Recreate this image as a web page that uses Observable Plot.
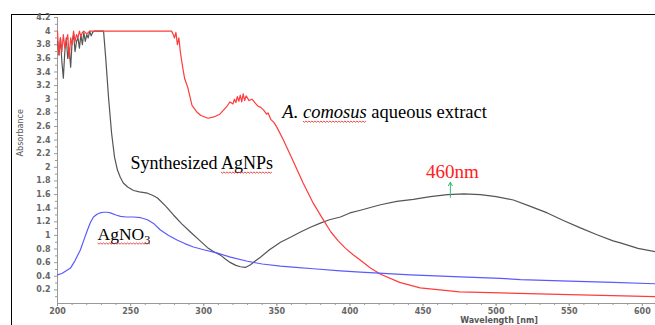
<!DOCTYPE html>
<html><head><meta charset="utf-8">
<script src="https://cdn.jsdelivr.net/npm/d3@7"></script>
<script src="https://cdn.jsdelivr.net/npm/@observablehq/plot@0.6"></script>
<style>
body{margin:0;background:#fff;}
#wrap{position:relative;width:655px;height:325px;overflow:hidden;background:#fff;}
#border{position:absolute;left:11px;top:14px;width:700px;height:400px;border-left:1.5px solid #000;border-top:1.5px solid #000;}
#chart{position:absolute;left:0;top:0;}
</style></head><body>
<div id="wrap"><div id="border"></div><div id="chart"></div></div>
<script>
// A. comosus aqueous extract (red)
const redW = [200,200.5,201,202,203,204,205,206,207,208,209,210,211,212,213,214,215,216,217,218,220,222,240,260,275,278,279,280,281,282,283,284,285,286,287,289,292,295,298,303,307,311,314,316,318,320,321,322,323,324,325,326,327,328,329,331,333,335,337,339,341,343,344,346,348,350,354.5,361,368,375,382,387,392,397,402,407,414,421,434,448,475,503,550,609];
const redA = [4.0,3.8,3.65,3.9,3.7,3.95,3.75,3.85,3.95,3.6,3.9,3.8,4.0,3.85,3.95,3.9,4.0,3.92,3.98,4.0,3.96,4.0,4.0,4.0,4.0,4.0,3.96,3.9,3.98,3.8,3.9,3.7,3.55,3.42,3.3,3.18,2.91,2.82,2.76,2.72,2.74,2.78,2.85,2.9,2.96,2.93,3.0,2.95,3.04,2.97,3.06,2.96,3.08,2.98,3.05,2.98,3.0,2.95,2.9,2.88,2.84,2.78,2.8,2.7,2.66,2.59,2.4,2.1,1.77,1.47,1.22,1.05,0.92,0.81,0.72,0.64,0.52,0.43,0.31,0.23,0.17,0.155,0.13,0.1];
// Synthesized AgNPs (dark grey)
const blackW = [200,201,202,203,204,205,206,207,208,209,210,211,212,213,214,215,216,217,218,219,220,221,222,223,224,225,228,231.5,233,235,237,239,241,243,245,248,252,256,261.5,265,268.4,274,279.3,285,290.9,297,302.6,307,311.5,315,318.3,322,325.1,328.5,332,335,338.8,345,352.5,360,366.2,373,379.8,386,393.5,400,407.2,414,420.9,432,443.4,455,466.7,478,489.2,500,511.8,523,535,546,557.6,569,580,585,597,608.9];
const blackA = [3.85,3.65,3.9,3.55,3.31,3.7,3.9,3.6,3.75,3.47,3.85,3.95,3.7,3.85,3.9,3.75,3.95,3.8,3.98,3.85,3.95,3.9,4.0,3.93,3.98,4.0,4.0,4.0,3.6,3.0,2.5,2.15,1.96,1.85,1.77,1.71,1.66,1.64,1.62,1.59,1.55,1.43,1.30,1.17,1.05,0.93,0.82,0.76,0.71,0.65,0.60,0.56,0.54,0.53,0.57,0.62,0.68,0.79,0.90,0.98,1.05,1.12,1.18,1.23,1.27,1.33,1.37,1.41,1.45,1.50,1.53,1.57,1.60,1.61,1.60,1.57,1.52,1.43,1.33,1.22,1.11,1.01,0.92,0.89,0.81,0.76];
// AgNO3 (blue)
const blueW = [200,203,206,208.9,212,215.7,218,220.5,222.5,224.6,227,229,231.5,234,236.2,240,243.1,247,252,257,261.5,266,270.4,276,282.1,287,293,300,309.4,318.3,329.9,340,352.5,363,375,393.5,407.2,441.4,475.6,502.9,516.6,550,580,608.9];
const blueA = [0.42,0.44,0.48,0.52,0.63,0.79,0.93,1.08,1.19,1.27,1.31,1.33,1.34,1.34,1.33,1.30,1.28,1.27,1.27,1.26,1.23,1.17,1.08,1.00,0.93,0.88,0.83,0.79,0.74,0.68,0.62,0.58,0.55,0.53,0.51,0.48,0.46,0.42,0.39,0.37,0.35,0.33,0.31,0.29];

const xTicks = [200,250,300,350,400,450,500,550,600];
const xMinorTicks = d3.range(200, 610, 10);
const yTicks = [0.2,0.4,0.6,0.8,1,1.2,1.4,1.6,1.8,2,2.2,2.4,2.6,2.8,3,3.2,3.4,3.6,3.8,4,4.2];
const yTickLabels = ["0.2","0.4","0.6","0.8","1","1.2","1.4","1.6","1.8","2","2.2","2.4","2.6","2.8","3","3.2","3.4","3.6","3.8","4","4.2"];
const yMinorTicks = d3.range(1, 42, 2).map(i => i / 10);

const toRows = (W, A) => W.map((w, i) => ({w, a: A[i]}));
const red = toRows(redW, redA), black = toRows(blackW, blackA), blue = toRows(blueW, blueA);

const serif = "'Liberation Serif', 'Times New Roman', serif";
const tickFont = {fontFamily: "'DejaVu Sans', sans-serif", fontSize: 8, fontWeight: "bold", fill: "#666"};

const chart = Plot.plot({
  width: 655, height: 325,
  marginLeft: 57, marginRight: 0, marginTop: 17, marginBottom: 22,
  x: {domain: [200, 609]},
  y: {domain: [0, 4.2]},
  style: {background: "transparent", overflow: "visible"},
  marks: [
    Plot.axisX({ticks: xMinorTicks, tickSize: 2, tickFormat: () => "", stroke: "#999", label: null}),
    Plot.axisX({ticks: xTicks, tickSize: 3, tickPadding: 2, tickFormat: d => String(d), stroke: "#999", label: null, ...tickFont}),
    Plot.axisY({ticks: yMinorTicks, tickSize: 2, tickFormat: () => "", stroke: "#999", label: null}),
    Plot.axisY({ticks: yTicks, tickSize: 3, tickPadding: 4, tickFormat: (d, i) => yTickLabels[i], stroke: "#999", label: null, ...tickFont}),
    Plot.ruleX([200], {stroke: "#999"}),
    Plot.ruleY([0], {stroke: "#999"}),
    Plot.text(["Absorbance"], {frameAnchor: "left", y: () => 2.16, dx: -37, rotate: -90, fontFamily: "'DejaVu Sans', sans-serif", fontSize: 8, fill: "#555"}),
    Plot.text(["Wavelength [nm]"], {x: () => 502, frameAnchor: "bottom", dy: 19, fontFamily: "'DejaVu Sans', sans-serif", fontSize: 8, fill: "#555", fontWeight: "bold"}),
    Plot.line(black, {x: "w", y: "a", stroke: "#555", strokeWidth: 1.2}),
    Plot.line(red, {x: "w", y: "a", stroke: "#ff3b3b", strokeWidth: 1.2}),
    Plot.line(blue, {x: "w", y: "a", stroke: "#5a5aff", strokeWidth: 1.2}),
    Plot.text(["A. comosus aqueous extract"], {x: () => 353.8, y: () => 2.81, textAnchor: "start", fontFamily: serif, fontSize: 18.5, fill: "#000"}),
    Plot.text(["Synthesized AgNPs"], {x: () => 249.9, y: () => 2.06, textAnchor: "start", fontFamily: serif, fontSize: 18, fill: "#000"}),
    Plot.text(["AgNO3"], {x: () => 227.4, y: () => 1.015, textAnchor: "start", fontFamily: serif, fontSize: 17.5, fill: "#000"}),
    Plot.text(["460nm"], {x: () => 470, y: () => 1.93, fontFamily: serif, fontSize: 19, fill: "#ff2020"}),
    Plot.arrow([0], {x1: () => 468.7, x2: () => 468.7, y1: () => 1.56, y2: () => 1.78, stroke: "#3cb371", strokeWidth: 1, headLength: 6, bend: 0})
  ]
});
document.getElementById("chart").appendChild(chart);

// mixed styles + spell-check squiggles
function squiggle(t, start, end) {
  const p0 = t.getStartPositionOfChar(start);
  const p1 = t.getEndPositionOfChar(end - 1);
  const y = p0.y + 3;
  let d = `M${p0.x},${y}`;
  let up = true;
  for (let x = p0.x + 1.5; x <= p1.x; x += 1.5) { d += `L${x},${up ? y + 1.2 : y}`; up = !up; }
  const path = document.createElementNS("http://www.w3.org/2000/svg", "path");
  path.setAttribute("d", d);
  path.setAttribute("fill", "none");
  path.setAttribute("stroke", "#e02020");
  path.setAttribute("stroke-width", "0.8");
  if (t.getAttribute("transform")) path.setAttribute("transform", t.getAttribute("transform"));
  t.parentNode.appendChild(path);
}
chart.querySelectorAll("text").forEach(t => {
  const s = t.textContent;
  if (s === "A. comosus aqueous extract") {
    t.innerHTML = '<tspan font-style="italic">A. comosus</tspan> aqueous extract';
    squiggle(t, 3, 10);
  } else if (s === "AgNO3") {
    t.innerHTML = 'AgNO<tspan dy="4" font-size="12">3</tspan>';
    squiggle(t, 0, 5);
  } else if (s === "Synthesized AgNPs") {
    squiggle(t, 12, 17);
  }
});
</script>
</body></html>
